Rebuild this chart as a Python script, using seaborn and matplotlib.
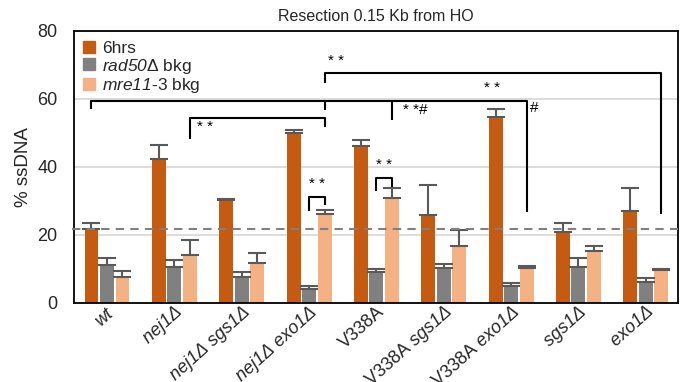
import matplotlib
matplotlib.use("Agg")
import matplotlib.pyplot as plt
import matplotlib.transforms as mtransforms
from matplotlib.lines import Line2D
import pandas as pd
import seaborn as sns

# categories and series values
strains = ["wt", "nej1Δ", "nej1Δ sgs1Δ", "nej1Δ exo1Δ", "V338A",
           "V338A sgs1Δ", "V338A exo1Δ", "sgs1Δ", "exo1Δ"]
tick_labels = [r"$wt$", r"$nej1Δ$", r"$nej1Δ\ sgs1Δ$",
               r"$nej1Δ\ exo1Δ$", "V338A", r"V338A $sgs1Δ$",
               r"V338A $exo1Δ$", r"$sgs1Δ$", r"$exo1Δ$"]
series = ["6hrs", "rad50Δ bkg", "mre11-3 bkg"]
legend_labels = ["6hrs", r"$rad50$Δ bkg", r"$mre11$-3 bkg"]

hrs6 = [21.7, 42.4, 30.4, 50.1, 46.1, 25.8, 54.6, 20.8, 26.9]
hrs6_err = [1.9, 4.1, 0.3, 0.8, 1.8, 8.9, 2.4, 2.8, 6.8]
rad50 = [11.2, 10.7, 7.6, 4.0, 9.1, 10.2, 5.1, 10.7, 6.1]
rad50_err = [1.9, 1.8, 1.4, 1.1, 1.0, 1.3, 0.8, 2.4, 1.3]
mre11 = [7.6, 14.2, 11.7, 26.3, 30.9, 16.7, 10.2, 15.2, 9.6]
mre11_err = [1.9, 4.4, 2.9, 1.0, 2.9, 4.7, 0.8, 1.4, 0.5]

wt_level = 21.7

# significance brackets: ((group, series) for each leg, bracket height, leg bottoms)
brackets = [
    [((3, 2), 64.8), ((3, 2), 67.6), ((8, 2), 67.6), ((8, 2), 26.1)],
    [((0, 0), 57.1), ((0, 0), 59.4), ((6, 2), 59.4), ((6, 2), 26.6)],
    [((3, 2), 59.4), ((3, 2), 56.8)],
    [((4, 2), 59.4), ((4, 2), 53.8)],
    [((1, 2), 48.2), ((1, 2), 54.5), ((3, 2), 54.5), ((3, 2), 51.7)],
    [((3, 1), 26.9), ((3, 1), 31.1), ((3, 2), 31.1), ((3, 2), 28.8)],
    [((4, 1), 32.9), ((4, 1), 36.7), ((4, 2), 36.7), ((4, 2), 34.2)],
]
# star labels: (group, series, x shift in group units, y, text)
stars = [
    (3, 2, 0.17, 69.0, "* *"),
    (6, 0, -0.05, 61.3, "* *"),
    (4, 2, 0.35, 54.8, "* *#"),
    (6, 2, 0.12, 55.2, "#"),
    (1, 2, 0.22, 49.6, "* *"),
    (3, 1, 0.12, 32.8, "* *"),
    (4, 1, 0.12, 38.5, "* *"),
]

colors = ["#C55A11", "#808080", "#F4B183"]

df = pd.DataFrame({
    "strain": strains * 3,
    "series": [s for s in series for _ in strains],
    "value": hrs6 + rad50 + mre11,
    "err": hrs6_err + rad50_err + mre11_err,
})

sns.set_theme(style="white")
plt.rcParams["font.family"] = ["Liberation Sans", "DejaVu Sans"]
# math text is only used for the italic gene names
plt.rcParams["mathtext.fontset"] = "custom"
plt.rcParams["mathtext.rm"] = "Liberation Sans:italic"
plt.rcParams["mathtext.it"] = "Liberation Sans:italic"
plt.rcParams["mathtext.default"] = "rm"

fig = plt.figure(figsize=(6.85, 3.82), dpi=100)
ax = fig.add_axes([0.108, 0.207, 0.882, 0.712])

sns.barplot(data=df, x="strain", y="value", hue="series", order=strains,
            hue_order=series, palette=colors, saturation=1, width=0.69,
            gap=0.1, errorbar=None, legend=False, ax=ax, linewidth=0,
            zorder=2)

# bar centres per series, taken from the drawn bars
bar_sets = list(ax.containers)
centers = []
for i, cont in enumerate(bar_sets):
    xs = [p.get_x() + p.get_width() / 2 for p in cont.patches]
    centers.append(xs)
    vals = [hrs6, rad50, mre11][i]
    errs = [hrs6_err, rad50_err, mre11_err][i]
    ax.errorbar(xs, vals, yerr=[[0] * len(errs), errs], fmt="none",
                ecolor="#595959", elinewidth=1.5, capsize=6.5, capthick=1.5,
                zorder=3)

ax.axhline(wt_level, color="#808080", ls=(0, (4, 3)), lw=1.5, zorder=4,
           clip_on=False, xmin=-0.003)

for br in brackets:
    xs = [centers[s][g] for (g, s), _ in br]
    ys = [y for _, y in br]
    ax.plot(xs, ys, color="black", lw=1.5, zorder=5, solid_capstyle="butt")

for g, s, dx, y, txt in stars:
    ax.text(centers[s][g] + dx, y, txt, ha="center", va="bottom",
            fontsize=11, color="black", zorder=6)

ax.set_ylim(0, 80)
ax.set_xlim(-0.49, 8.48)
ax.set_yticks([0, 20, 40, 60, 80])
ax.yaxis.grid(True, color="#D9D9D9", lw=1.3)
ax.set_axisbelow(True)
for sp in ax.spines.values():
    sp.set_color("black")
    sp.set_linewidth(1.3)
ax.tick_params(axis="both", length=0, labelsize=13)
ax.tick_params(axis="y", pad=12)
ax.tick_params(axis="x", pad=0)
ax.set_xticks(range(len(strains)))
ax.set_xticklabels(tick_labels, rotation=42, ha="right", va="center",
                   rotation_mode="anchor", fontsize=13)
offset = mtransforms.ScaledTranslation(4 / 72, -5 / 72, fig.dpi_scale_trans)
for lab in ax.get_xticklabels():
    lab.set_transform(lab.get_transform() + offset)
ax.set_xlabel("")
ax.set_ylabel("% ssDNA", fontsize=13.5, labelpad=4)
ax.set_title("Resection 0.15 Kb from HO", fontsize=11.5, pad=7)

handles = [Line2D([], [], marker="s", ls="none", color=c, markersize=8)
           for c in colors]
ax.legend(handles, legend_labels, loc="upper left", frameon=False,
          fontsize=12.5, handlelength=0.6, handletextpad=0.45,
          labelspacing=0.05, borderaxespad=0.25, borderpad=0.3)

fig.savefig("out.png", dpi=100)
